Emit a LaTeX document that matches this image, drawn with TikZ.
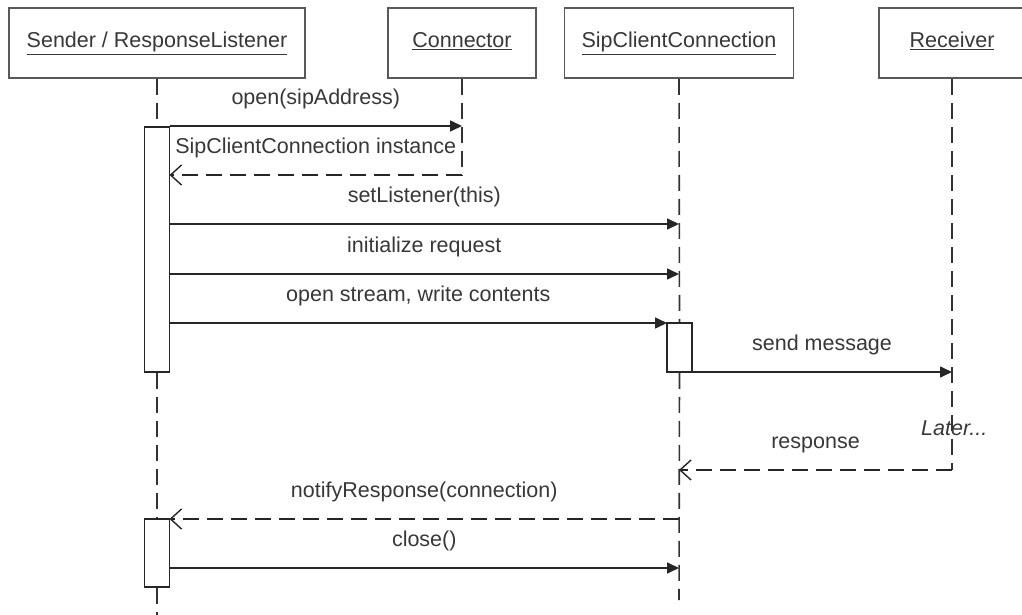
\documentclass[tikz,border=0pt]{standalone}
\usepackage{fontspec}
\setmainfont{Liberation Sans}
\usetikzlibrary{arrows.meta}
\begin{document}
\begin{tikzpicture}[x=1pt,y=-1pt,
  every node/.style={font=\fontsize{21.5pt}{26pt}\selectfont, text=black!78},
  head/.style={draw=black!65, line width=1.8pt, fill=white, minimum height=70pt,
    inner sep=0pt, text height=15pt, text depth=5pt},
  act/.style={draw=black!85, line width=1.6pt, fill=white, minimum width=25pt, inner sep=0pt},
  life/.style={draw=black!80, line width=1.6pt, dash pattern=on 16pt off 8pt},
  sync/.style={draw=black!85, line width=1.6pt, -{Triangle[length=12pt,width=11pt]}},
  reply/.style={draw=black!85, line width=1.6pt, dash pattern=on 16pt off 8pt,
    -{Straight Barb[length=11pt,width=20pt,line width=1.4pt]}},
  lbl/.style={anchor=base, inner sep=0pt, yshift=21.5pt},
]
\useasboundingbox[fill=white] (0,0) rectangle (1022,615);

% object heads
\node[head, minimum width=296pt] (sender) at (157,43) {\underline{Sender / ResponseListener}};
\node[head, minimum width=148pt] (conn) at (462,43) {\underline{Connector}};
\node[head, minimum width=229pt] (sip) at (679,43) {\underline{SipClientConnection}};
\node[head, minimum width=146pt] (recv) at (952,43) {\underline{Receiver}};

% activation bars
\node[act, minimum height=245pt] (act1) at (157,249.5) {};
\node[act, minimum height=49pt] (act2) at (679.5,347.5) {};
\node[act, minimum height=68pt] (act3) at (157,553) {};

% lifeline ends
\coordinate (sEnd) at (157,615);
\coordinate (cEnd) at (462,175);
\coordinate (sipEnd) at (679,600);
\coordinate (rEnd) at (952,470);

% lifelines, broken at the activation bars
\draw[life] (sender.south) -- (act1.north);
\draw[life] (act1.south) -- (act3.north);
\draw[life] (act3.south) -- (sEnd);
\draw[life] (conn.south) -- (cEnd);
\draw[life] (sip.south) -- (act2.north);
\draw[life] (act2.south) -- (sipEnd);
\draw[life] (recv.south) -- (rEnd);

% message end points
\coordinate (s1) at (169.5,126);  \coordinate (c1) at (462,126);
\coordinate (c2) at (462,175);    \coordinate (s2) at (169.5,175);
\coordinate (s3) at (169.5,224);  \coordinate (p3) at (679,224);
\coordinate (s4) at (169.5,274);  \coordinate (p4) at (679,274);
\coordinate (s5) at (169.5,323);  \coordinate (p5) at (667,323);
\coordinate (p6) at (692,372);    \coordinate (r6) at (952,372);
\coordinate (r8) at (952,470);    \coordinate (p8) at (679,470);
\coordinate (p9) at (679,519);    \coordinate (s9) at (169.5,519);
\coordinate (s10) at (169.5,568); \coordinate (p10) at (679,568);

% messages
\draw[sync]  (s1) -- node[lbl] {open(sipAddress)} (c1);
\draw[reply] (c2) -- node[lbl] {SipClientConnection instance} (s2);
\draw[sync]  (s3) -- node[lbl] {setListener(this)} (p3);
\draw[sync]  (s4) -- node[lbl] {initialize request} (p4);
\draw[sync]  (s5) -- node[lbl] {open stream, write contents} (p5);
\draw[sync]  (p6) -- node[lbl] {send message} (r6);
\draw[reply] (r8) -- node[lbl] {response} (p8);
\draw[reply] (p9) -- node[lbl] {notifyResponse(connection)} (s9);
\draw[sync]  (s10) -- node[lbl] {close()} (p10);

\node[anchor=base west, inner sep=0pt, font=\fontsize{21.5pt}{26pt}\selectfont\itshape] (later) at (921,435) {Later...};
\end{tikzpicture}
\end{document}
